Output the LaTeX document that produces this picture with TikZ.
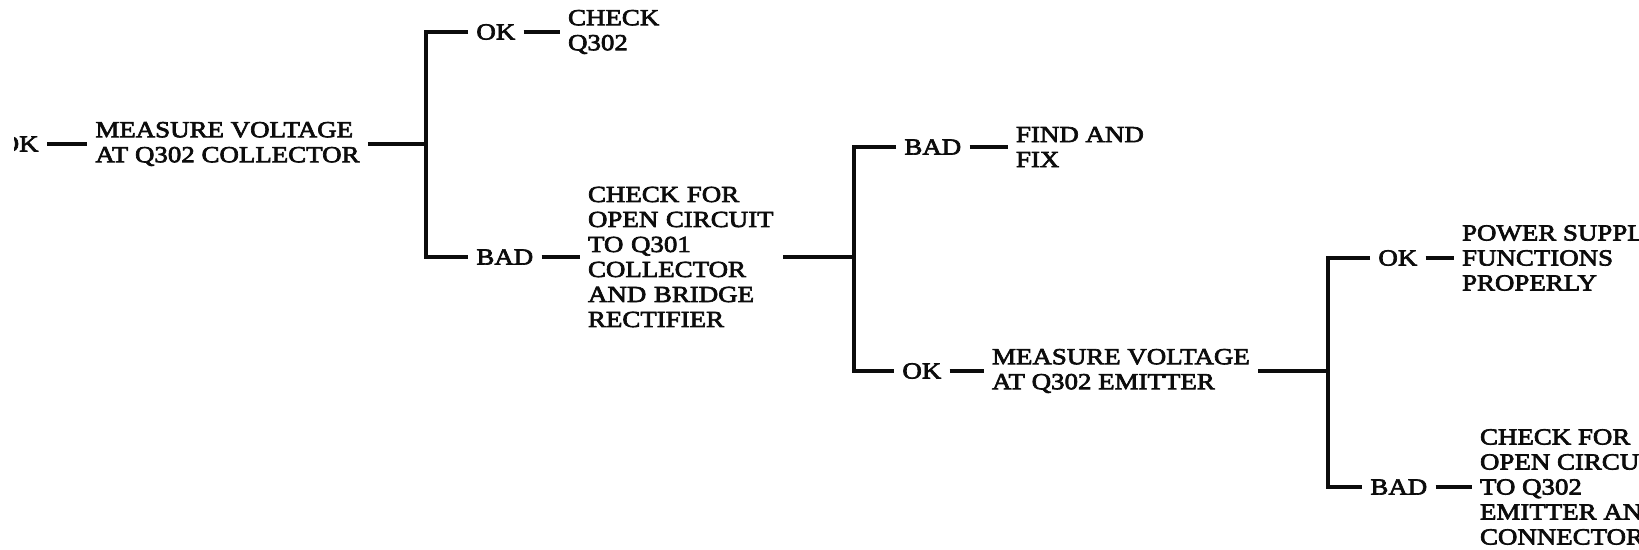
\documentclass[tikz,border=0pt]{standalone}
\usepackage{fontspec}
\setmainfont{Liberation Serif}[FakeStretch=1.17, FakeBold=3]
\usetikzlibrary{positioning}
\definecolor{printInk}{RGB}{12, 12, 12}
\newcommand{\treefont}{\fontsize{11.5}{12.5}\selectfont}

\begin{document}
\begin{tikzpicture}[
    x=0.5pt, y=-0.5pt,
    stepText/.style={rectangle, text=printInk, inner xsep=4pt, inner ysep=0pt, font=\treefont, align=left, anchor=west},
    answerTag/.style={rectangle, text=printInk, inner xsep=4pt, inner ysep=0pt, font=\treefont},
    wire/.style={line width=2.2pt, draw=printInk}
  ]
    \useasboundingbox (0,0) rectangle (1639,550);
    \clip (0,0) rectangle (1639,550);

    % Branch points of the tree
    \coordinate (j1) at (426,144);
    \coordinate (j1t) at (426,32);
    \coordinate (j1b) at (426,257);
    \coordinate (j2) at (854,257);
    \coordinate (j2t) at (854,147);
    \coordinate (j2b) at (854,371);
    \coordinate (j3) at (1328,371);
    \coordinate (j3t) at (1328,258);
    \coordinate (j3b) at (1328,487);

    % Step 1: collector voltage
    \node[stepText] (meas1) at (87,144) {MEASURE VOLTAGE\\AT Q302 COLLECTOR};
    \begin{scope}
      \clip (14,0) rectangle (80,550);
      \node[answerTag, left=20pt of meas1] (okin) {OK};
    \end{scope}
    \node[answerTag, right=21pt of j1t] (ok1) {OK};
    \node[stepText, right=18pt of ok1] (chk1) {CHECK\\Q302};
    \node[answerTag, right=21pt of j1b] (bad1) {BAD};
    \node[stepText, text width=93.5pt, right=19pt of bad1] (open1) {CHECK FOR\\OPEN CIRCUIT\\TO Q301\\COLLECTOR\\AND BRIDGE\\RECTIFIER};

    % Step 2: open circuit checked
    \node[answerTag, right=21pt of j2t] (bad2) {BAD};
    \node[stepText, right=19pt of bad2] (fix) {FIND AND\\FIX};
    \node[answerTag, right=20pt of j2b] (ok2) {OK};
    \node[stepText, right=17pt of ok2] (meas2) {MEASURE VOLTAGE\\AT Q302 EMITTER};

    % Step 3: emitter voltage
    \node[answerTag, right=21pt of j3t] (ok3) {OK};
    \node[stepText, right=14pt of ok3] (power) {POWER SUPPLY\\FUNCTIONS\\PROPERLY};
    \node[answerTag, right=17pt of j3b] (bad3) {BAD};
    \node[stepText, right=18pt of bad3] (open2) {CHECK FOR\\OPEN CIRCUIT\\TO Q302\\EMITTER AND\\CONNECTOR};

    % Connections
    \draw[wire] (okin) -- (meas1);
    \draw[wire] (meas1) -- (j1);
    \draw[wire] (ok1) -- (j1t) -- (j1b) -- (bad1);
    \draw[wire] (ok1) -- (chk1);
    \draw[wire] (bad1) -- (open1);

    \draw[wire] (open1) -- (j2);
    \draw[wire] (bad2) -- (j2t) -- (j2b) -- (ok2);
    \draw[wire] (bad2) -- (fix);
    \draw[wire] (ok2) -- (meas2);

    \draw[wire] (meas2) -- (j3);
    \draw[wire] (ok3) -- (j3t) -- (j3b) -- (bad3);
    \draw[wire] (ok3) -- (power);
    \draw[wire] (bad3) -- (open2);
  \end{tikzpicture}
\end{document}
